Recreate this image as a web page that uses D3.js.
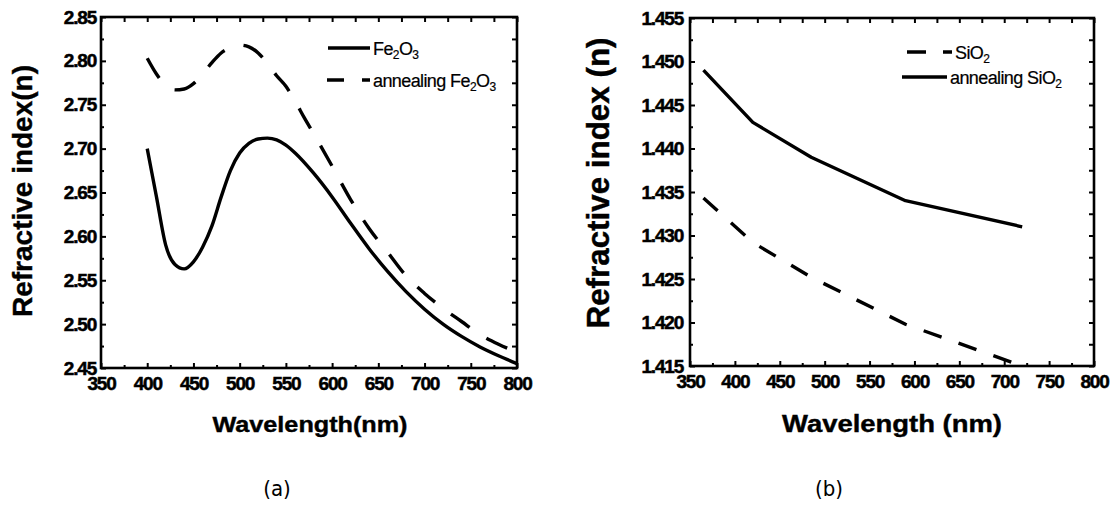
<!DOCTYPE html>
<html>
<head>
<meta charset="utf-8">
<script src="https://cdn.jsdelivr.net/npm/d3@7"></script>
<style>
  body { margin: 0; background: #fff; }
  svg { display: block; }
  .tick text { font-family: "Liberation Sans", Arial, sans-serif; font-weight: bold; font-size: 19px; letter-spacing: -1.2px; fill: #000; stroke: #000; stroke-width: 0.5px; }
  .tick line { stroke: #000; stroke-width: 2; }
  .title { font-family: "Liberation Sans", Arial, sans-serif; font-weight: bold; fill: #000; stroke: #000; stroke-width: 0.4px; }
  .legend { font-family: "Liberation Sans", Arial, sans-serif; font-size: 18px; letter-spacing: -0.6px; fill: #000; stroke: #000; stroke-width: 0.2px; }
  .caption { font-family: "Liberation Sans Narrow", "DejaVu Sans Condensed", sans-serif; font-size: 22px; fill: #000; }
</style>
</head>
<body>
<div id="chart"></div>
<script>
// panel (a): Fe2O3
const feWave = [400, 410, 420, 430, 440, 450, 460, 470, 480, 490, 500, 510, 520, 530, 540, 550, 560, 580, 600, 620, 640, 660, 680, 700, 720, 740, 760, 780, 800];
const feN = [2.700, 2.645, 2.590, 2.568, 2.563, 2.571, 2.588, 2.612, 2.645, 2.675, 2.695, 2.706, 2.711, 2.712, 2.710, 2.704, 2.695, 2.672, 2.645, 2.615, 2.586, 2.560, 2.537, 2.517, 2.500, 2.486, 2.474, 2.464, 2.455];
const feAnnWave = [400, 410, 420, 430, 440, 450, 460, 470, 480, 490, 500, 510, 520, 530, 540, 550, 560, 570, 580, 600, 620, 640, 660, 680, 700, 720, 740, 760, 780, 800];
const feAnnN = [2.803, 2.785, 2.772, 2.767, 2.768, 2.774, 2.785, 2.798, 2.809, 2.815, 2.818, 2.816, 2.809, 2.797, 2.783, 2.771, 2.754, 2.735, 2.717, 2.680, 2.642, 2.609, 2.582, 2.555, 2.535, 2.518, 2.503, 2.488, 2.477, 2.468];
const feYTicks = [2.45, 2.50, 2.55, 2.60, 2.65, 2.70, 2.75, 2.80, 2.85];

// panel (b): SiO2
const siWave = [365, 420, 485, 590, 720];
const siN = [1.4343, 1.4292, 1.4252, 1.4198, 1.4150];
const siAnnN = [1.4490, 1.4430, 1.4390, 1.4340, 1.4310];
const siYTicks = [1.415, 1.420, 1.425, 1.430, 1.435, 1.440, 1.445, 1.450, 1.455];

const xTicks = [350, 400, 450, 500, 550, 600, 650, 700, 750, 800];

const svg = d3.select("#chart").append("svg")
    .attr("width", 1115)
    .attr("height", 506);

function drawPanel(p) {
    const x = d3.scaleLinear().domain([350, 800]).range([p.left, p.right]);
    const y = d3.scaleLinear().domain(p.yDomain).range([p.bottom, p.top]);
    const g = svg.append("g");

    const yStep = p.yTicks[1] - p.yTicks[0];
    const yMinor = p.yTicks.slice(0, -1).map(function(v) { return v + yStep / 2; });
    const xMinor = xTicks.slice(0, -1).map(function(v) { return v + 25; });

    // bottom axis, ticks inward
    g.append("g")
        .attr("transform", "translate(0," + p.bottom + ")")
        .call(d3.axisBottom(x).tickValues(xTicks).tickSize(-5).tickPadding(9).tickFormat(d3.format("d")))
        .call(function(a) { a.select(".domain").remove(); });
    g.append("g")
        .attr("transform", "translate(0," + p.bottom + ")")
        .call(d3.axisBottom(x).tickValues(xMinor).tickSize(-3).tickFormat(""))
        .call(function(a) { a.select(".domain").remove(); });

    // left axis
    g.append("g")
        .attr("transform", "translate(" + p.left + ",0)")
        .call(d3.axisLeft(y).tickValues(p.yTicks).tickSize(-5).tickPadding(p.yPad).tickFormat(d3.format(p.yFmt)))
        .call(function(a) { a.select(".domain").remove(); });
    g.append("g")
        .attr("transform", "translate(" + p.left + ",0)")
        .call(d3.axisLeft(y).tickValues(yMinor).tickSize(-3).tickFormat(""))
        .call(function(a) { a.select(".domain").remove(); });

    // top and right ticks
    g.append("g")
        .attr("transform", "translate(0," + p.top + ")")
        .call(d3.axisTop(x).tickValues(xTicks.concat(xMinor)).tickSize(-5).tickFormat(""))
        .call(function(a) { a.select(".domain").remove(); });
    g.append("g")
        .attr("transform", "translate(" + p.right + ",0)")
        .call(d3.axisRight(y).tickValues(p.yTicks.concat(yMinor)).tickSize(-5).tickFormat(""))
        .call(function(a) { a.select(".domain").remove(); });

    // frame
    g.append("rect")
        .attr("x", p.left).attr("y", p.top)
        .attr("width", p.right - p.left).attr("height", p.bottom - p.top)
        .attr("fill", "none").attr("stroke", "#000").attr("stroke-width", 2.6);

    const line = d3.line()
        .x(function(d) { return x(d[0]); })
        .y(function(d) { return y(d[1]); })
        .curve(p.curve);

    p.series.forEach(function(s) {
        g.append("path")
            .datum(d3.zip(s.wave, s.values))
            .attr("d", line)
            .attr("fill", "none")
            .attr("stroke", "#000")
            .attr("stroke-width", 3.4)
            .attr("stroke-linejoin", "round")
            .attr("stroke-dasharray", s.dash);

        // legend entry
        g.append("line")
            .attr("x1", s.lx1).attr("x2", s.lx2)
            .attr("y1", s.ly).attr("y2", s.ly)
            .attr("stroke", "#000").attr("stroke-width", 3.4)
            .attr("stroke-dasharray", s.legendDash);
        const t = g.append("text")
            .attr("class", "legend")
            .attr("x", s.lx2 + 3).attr("y", s.ly + 7);
        s.label.forEach(function(part) {
            t.append("tspan")
                .attr("font-size", part.sub ? "12px" : null)
                .attr("dy", part.sub ? 4 : (part.after ? -4 : 0))
                .text(part.text);
        });
    });

    // axis titles
    g.append("text")
        .attr("class", "title")
        .attr("x", p.xTitle.x).attr("y", p.xTitle.y)
        .attr("text-anchor", "middle")
        .attr("font-size", p.xTitle.size + "px")
        .attr("textLength", p.xTitle.len)
        .attr("lengthAdjust", "spacingAndGlyphs")
        .text(p.xTitle.text);
    g.append("text")
        .attr("class", "title")
        .attr("transform", "translate(" + p.yTitle.x + "," + p.yTitle.y + ") rotate(-90)")
        .attr("text-anchor", "middle")
        .attr("font-size", p.yTitle.size + "px")
        .attr("textLength", p.yTitle.len)
        .attr("lengthAdjust", "spacingAndGlyphs")
        .text(p.yTitle.text);

    g.append("text")
        .attr("class", "caption")
        .attr("x", p.caption.x).attr("y", 496)
        .attr("text-anchor", "middle")
        .text(p.caption.text);
}

drawPanel({
    left: 101, right: 517, top: 17, bottom: 368,
    yDomain: [2.45, 2.85], yTicks: feYTicks, yFmt: ".2f", yPad: 5,
    curve: d3.curveMonotoneX,
    series: [
        { wave: feWave, values: feN, dash: null, legendDash: null,
          lx1: 328, lx2: 370, ly: 48,
          label: [{ text: "Fe" }, { text: "2", sub: true }, { text: "O", after: true }, { text: "3", sub: true }] },
        { wave: feAnnWave, values: feAnnN, dash: "23,20", legendDash: "17,18",
          lx1: 327, lx2: 370, ly: 80,
          label: [{ text: "annealing Fe" }, { text: "2", sub: true }, { text: "O", after: true }, { text: "3", sub: true }] }
    ],
    xTitle: { text: "Wavelength(nm)", x: 310, y: 432, size: 22, len: 195 },
    yTitle: { text: "Refractive index(n)", x: 32, y: 191, size: 27, len: 252 },
    caption: { text: "(a)", x: 277 }
});

drawPanel({
    left: 690, right: 1094, top: 18, bottom: 366,
    yDomain: [1.415, 1.455], yTicks: siYTicks, yFmt: ".3f", yPad: 7,
    curve: d3.curveLinear,
    series: [
        { wave: siWave, values: siN, dash: "19,18", legendDash: "19,17",
          lx1: 907, lx2: 952, ly: 52,
          label: [{ text: "SiO" }, { text: "2", sub: true }] },
        { wave: siWave, values: siAnnN, dash: null, legendDash: null,
          lx1: 902, lx2: 947, ly: 77,
          label: [{ text: "annealing SiO" }, { text: "2", sub: true }] }
    ],
    xTitle: { text: "Wavelength (nm)", x: 892, y: 432, size: 24, len: 220 },
    yTitle: { text: "Refractive index (n)", x: 609, y: 183, size: 31, len: 291 },
    caption: { text: "(b)", x: 829 }
});
</script>
</body>
</html>
